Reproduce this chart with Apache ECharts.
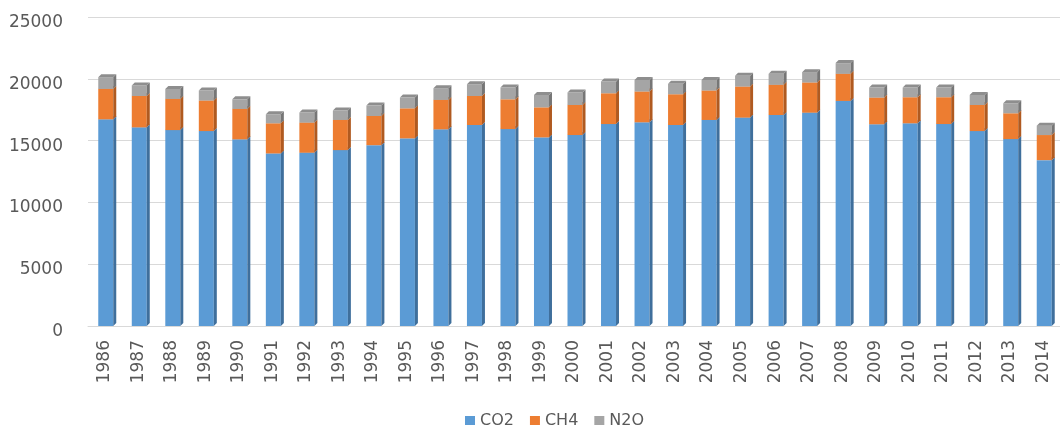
<!DOCTYPE html>
<html>
<head>
<meta charset="utf-8">
<script src="https://cdn.jsdelivr.net/npm/echarts@6/dist/echarts.min.js"></script>
<style>
  html, body { margin: 0; padding: 0; background: #ffffff; }
  #chart { width: 1060px; height: 425px; }
</style>
</head>
<body>
<div id="chart"></div>
<script>
// Annual greenhouse gas emissions by gas, 1986-2014
const years = ['1986','1987','1988','1989','1990','1991','1992','1993','1994','1995',
               '1996','1997','1998','1999','2000','2001','2002','2003','2004','2005',
               '2006','2007','2008','2009','2010','2011','2012','2013','2014'];
const co2 = [16720,16070,15850,15770,15100,13960,14020,14230,14630,15180,
             15910,16260,15930,15260,15450,16340,16480,16260,16670,16860,
             17070,17260,18210,16320,16400,16340,15770,15120,13420];
const ch4 = [2460,2540,2520,2470,2460,2440,2430,2440,2360,2430,
             2380,2350,2410,2430,2430,2490,2490,2490,2380,2510,
             2440,2440,2190,2160,2110,2170,2110,2090,2030];
const n2o = [950,850,810,810,780,730,820,760,840,870,
             950,950,950,1000,1010,950,940,840,860,870,
             890,840,870,810,780,780,810,810,760];
const yMax = 25000;
const yStep = 5000;

// Running totals under each gas so segments stack
const base0 = co2.map(() => 0);
const base1 = co2.map((v) => v);
const base2 = co2.map((v, i) => v + ch4[i]);

const FONT = 'DejaVu Sans';
const TEXT = '#595959';

// Box-shaped column segment: front face, darker right side, top face
function boxSeries(name, values, below, colors) {
  return {
    type: 'custom',
    name: name,
    itemStyle: { color: colors.front },
    data: values.map((v, i) => [i, below[i], below[i] + v]),
    encode: { x: 0, y: [1, 2] },
    silent: true,
    renderItem: function (params, api) {
      const i = api.value(0);
      const lo = api.coord([i, api.value(1)]);
      const hi = api.coord([i, api.value(2)]);
      const w = 15, dx = 3, dy = 3, shift = 1;
      const x0 = lo[0] - w / 2 + shift;
      const x1 = x0 + w;
      return {
        type: 'group',
        children: [
          { type: 'rect',
            shape: { x: x0, y: hi[1], width: w, height: lo[1] - hi[1] },
            style: { fill: colors.front } },
          { type: 'polygon',
            shape: { points: [[x1, lo[1]], [x1, hi[1]], [x1 + dx, hi[1] - dy], [x1 + dx, lo[1] - dy]] },
            style: { fill: colors.side } },
          { type: 'polygon',
            shape: { points: [[x0, hi[1]], [x0 + dx, hi[1] - dy], [x1 + dx, hi[1] - dy], [x1, hi[1]]] },
            style: { fill: colors.top } }
        ]
      };
    }
  };
}

const chart = echarts.init(document.getElementById('chart'), null, { renderer: 'canvas' });
chart.setOption({
  animation: false,
  backgroundColor: '#ffffff',
  textStyle: { fontFamily: FONT },
  grid: { left: 88, top: 17, bottom: 99, width: 975 },
  legend: {
    left: 460,
    top: 408,
    icon: 'rect',
    itemWidth: 10,
    itemHeight: 10,
    itemGap: 16,
    selectedMode: false,
    textStyle: { fontFamily: FONT, fontSize: 16, color: TEXT },
    data: ['CO2', 'CH4', 'N2O']
  },
  xAxis: {
    type: 'category',
    data: years,
    boundaryGap: true,
    axisLine: { show: true, lineStyle: { color: '#d9d9d9', width: 1 } },
    axisTick: { show: false },
    axisLabel: {
      rotate: 90,
      margin: 14,
      interval: 0,
      fontFamily: FONT,
      fontSize: 17,
      color: TEXT
    }
  },
  yAxis: {
    type: 'value',
    min: 0,
    max: yMax,
    interval: yStep,
    axisLine: { show: false },
    axisTick: { show: false },
    splitLine: { lineStyle: { color: '#d9d9d9', width: 1 } },
    axisLabel: {
      margin: 25,
      color: TEXT,
      formatter: function (v) { return '{t|' + String(v) + '}'; },
      rich: {
        t: { fontFamily: FONT, fontSize: 17, color: TEXT, padding: [11, 0, 0, 0] }
      }
    }
  },
  series: [
    boxSeries('CO2', co2, base0, { front: '#5b9bd5', side: '#3f6f9c', top: '#7fb0de' }),
    boxSeries('CH4', ch4, base1, { front: '#ed7d31', side: '#b05a20', top: '#f29a5e' }),
    boxSeries('N2O', n2o, base2, { front: '#a5a5a5', side: '#767676', top: '#8e8e8e' })
  ]
});
</script>
</body>
</html>
